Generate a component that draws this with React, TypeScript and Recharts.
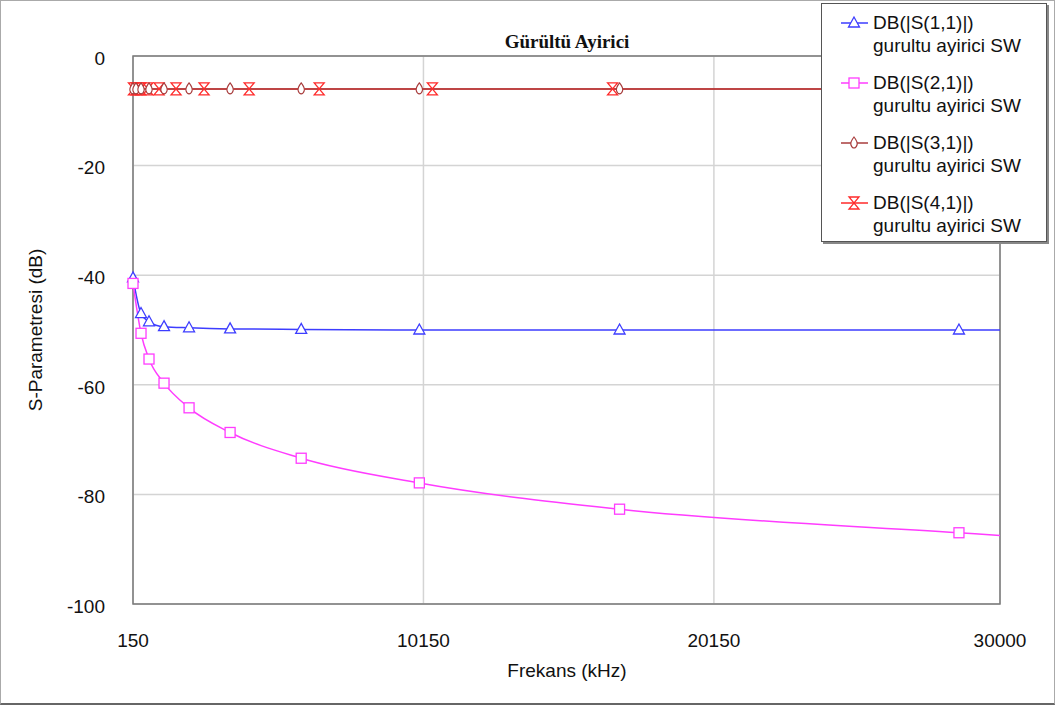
import { LineChart, Line, XAxis, YAxis, CartesianGrid, ReferenceArea } from 'recharts';

// frequency sweep points (kHz) where the simulator drew a marker
const freqS11 = [150, 426, 701, 1218, 2080, 3493, 5941, 10008, 16902, 28587];
const freqS21 = [150, 426, 701, 1218, 2080, 3493, 5941, 10008, 16902, 28587];
const freqS31 = [150, 253, 426, 701, 1218, 2080, 3493, 5941, 10008, 16902, 28587];
const freqS41 = [166, 263, 417, 660, 1046, 1632, 2597, 4149, 6561, 10457, 16661, 26300];
const endFreq = 30000;

// dB values
const dbS11 = [-40.5, -47, -48.5, -49.4, -49.6, -49.8, -49.9, -50, -50, -50];
const dbS21 = [-41.5, -50.6, -55.3, -59.7, -64.2, -68.7, -73.4, -77.9, -82.7, -87.0];
const dbS31 = [-6, -6, -6, -6, -6, -6, -6, -6, -6, -6, -6];
const dbS41 = [-6, -6, -6, -6, -6, -6, -6, -6, -6, -6, -6, -6];
const endS11 = -50;
const endS21 = -87.5;
const endS31 = -6;
const endS41 = -6;

const xTicks = [150, 10150, 20150, 30000];
const yTicks = [0, -20, -40, -60, -80, -100];

const legendNames = ['DB(|S(1,1)|)', 'DB(|S(2,1)|)', 'DB(|S(3,1)|)', 'DB(|S(4,1)|)'];
const legendSub = 'gurultu ayirici SW';

const BLUE = '#3d3dff';
const MAGENTA = '#ff3cff';
const BROWN = '#a83c3c';
const RED = '#ff2a2a';
const FONT = '"Liberation Sans", Arial, sans-serif';

const build = (freqs: number[], vals: number[], end: number) => [
  ...freqs.map((f, i) => ({ f, db: vals[i], m: true })),
  { f: endFreq, db: end, m: false },
];

const dataS11 = build(freqS11, dbS11, endS11);
const dataS21 = build(freqS21, dbS21, endS21);
const dataS31 = build(freqS31, dbS31, endS31);
const dataS41 = build(freqS41, dbS41, endS41);

type Shape = 'tri' | 'sq' | 'dia' | 'hour';

const Marker = ({ shape, cx, cy, color }: { shape: Shape; cx: number; cy: number; color: string }) => {
  if (shape === 'tri')
    return <polygon points={`${cx},${cy - 6} ${cx - 5.5},${cy + 4} ${cx + 5.5},${cy + 4}`} fill="#fff" stroke={color} strokeWidth={1.3} />;
  if (shape === 'sq')
    return <rect x={cx - 5} y={cy - 5} width={10} height={10} fill="#fff" stroke={color} strokeWidth={1.3} />;
  if (shape === 'dia')
    return (
      <path
        d={`M${cx},${cy - 6}Q${cx + 4},${cy - 1} ${cx + 3},${cy + 2}Q${cx + 2},${cy + 5} ${cx},${cy + 5}Q${cx - 2},${cy + 5} ${cx - 3},${cy + 2}Q${cx - 4},${cy - 1} ${cx},${cy - 6}Z`}
        fill="#fff"
        stroke={color}
        strokeWidth={1.2}
      />
    );
  return <path d={`M${cx - 5},${cy - 6}L${cx + 5},${cy - 6}L${cx - 5},${cy + 6}L${cx + 5},${cy + 6}Z`} fill="none" stroke={color} strokeWidth={1.3} />;
};

const dotFor = (shape: Shape, color: string) => (props: any) => {
  const { cx, cy, payload, index } = props;
  if (!payload?.m) return <g key={`d-${index}`} />;
  return (
    <g key={`d-${index}`}>
      <Marker shape={shape} cx={cx} cy={cy} color={color} />
    </g>
  );
};

const legendItems: { shape: Shape; color: string }[] = [
  { shape: 'tri', color: BLUE },
  { shape: 'sq', color: MAGENTA },
  { shape: 'dia', color: BROWN },
  { shape: 'hour', color: RED },
];

export default function App() {
  return (
    <div style={{ position: 'fixed', left: 0, top: 0, width: 1055, height: 706, background: '#fff' }}>
      <div style={{ position: 'absolute', left: 0, top: 0, width: 1053, height: 702, borderTop: '1px solid #aaa', borderLeft: '1px solid #aaa', borderRight: '1px solid #aaa', borderBottom: '2px solid #666' }} />
      <LineChart width={1055} height={706} margin={{ top: 56, right: 55, bottom: 0, left: 0 }}>
        <CartesianGrid stroke="#d4d4d4" strokeWidth={1.5} />
        <XAxis
          type="number"
          dataKey="f"
          domain={[150, 30000]}
          ticks={xTicks}
          height={102}
          tickLine={false}
          tickSize={0}
          tickMargin={30}
          axisLine={false}
          tick={{ fill: '#111', fontSize: 19, fontFamily: FONT }}
        />
        <YAxis
          type="number"
          domain={[-100, 0]}
          ticks={yTicks}
          width={133}
          tickLine={false}
          tickSize={0}
          tickMargin={28}
          axisLine={false}
          tick={{ fill: '#111', fontSize: 19, fontFamily: FONT, dy: 2 }}
        />
        <ReferenceArea x1={150} x2={30000} y1={-100} y2={0} fill="none" stroke="#7a7a7a" strokeWidth={1.5} ifOverflow="visible" />
        <Line data={dataS11} dataKey="db" type="monotone" stroke={BLUE} strokeWidth={1.5} dot={dotFor('tri', BLUE)} activeDot={false} isAnimationActive={false} />
        <Line data={dataS21} dataKey="db" type="monotone" stroke={MAGENTA} strokeWidth={1.5} dot={dotFor('sq', MAGENTA)} activeDot={false} isAnimationActive={false} />
        <Line data={dataS41} dataKey="db" type="monotone" stroke={RED} strokeWidth={1.5} dot={dotFor('hour', RED)} activeDot={false} isAnimationActive={false} />
        <Line data={dataS31} dataKey="db" type="monotone" stroke={BROWN} strokeWidth={1.5} dot={dotFor('dia', BROWN)} activeDot={false} isAnimationActive={false} />
      </LineChart>

      <svg width={1055} height={706} style={{ position: 'absolute', left: 0, top: 0, pointerEvents: 'none' }}>
        <text x={567} y={48} textAnchor="middle" fontFamily='"Liberation Serif", "Times New Roman", serif' fontWeight="bold" fontSize={19} fill="#111">
          Gürültü Ayirici
        </text>
        <text x={567} y={677} textAnchor="middle" fontFamily={FONT} fontSize={19} fill="#111">
          Frekans (kHz)
        </text>
        <text transform="translate(42,330) rotate(-90)" textAnchor="middle" fontFamily={FONT} fontSize={19} fill="#111">
          S-Parametresi (dB)
        </text>
      </svg>

      <div
        style={{
          position: 'absolute',
          left: 821,
          top: 3,
          width: 224,
          height: 237,
          background: '#fff',
          border: '1px solid #555',
          boxShadow: '2px 2px 0 #888',
          fontFamily: FONT,
          fontSize: 19,
          color: '#111',
        }}
      >
        {legendItems.map((it, i) => (
          <div key={i} style={{ position: 'absolute', left: 0, top: 7 + i * 60, width: 224, height: 50 }}>
            <svg width={50} height={26} style={{ position: 'absolute', left: 0, top: 0 }}>
              <line x1={19} x2={46} y1={12} y2={12} stroke={it.color} strokeWidth={1.5} />
              <Marker shape={it.shape} cx={32} cy={12} color={it.color} />
            </svg>
            <div style={{ position: 'absolute', left: 51, top: 0, lineHeight: '23px', whiteSpace: 'nowrap' }}>
              {legendNames[i]}
              <br />
              {legendSub}
            </div>
          </div>
        ))}
      </div>
    </div>
  );
}
